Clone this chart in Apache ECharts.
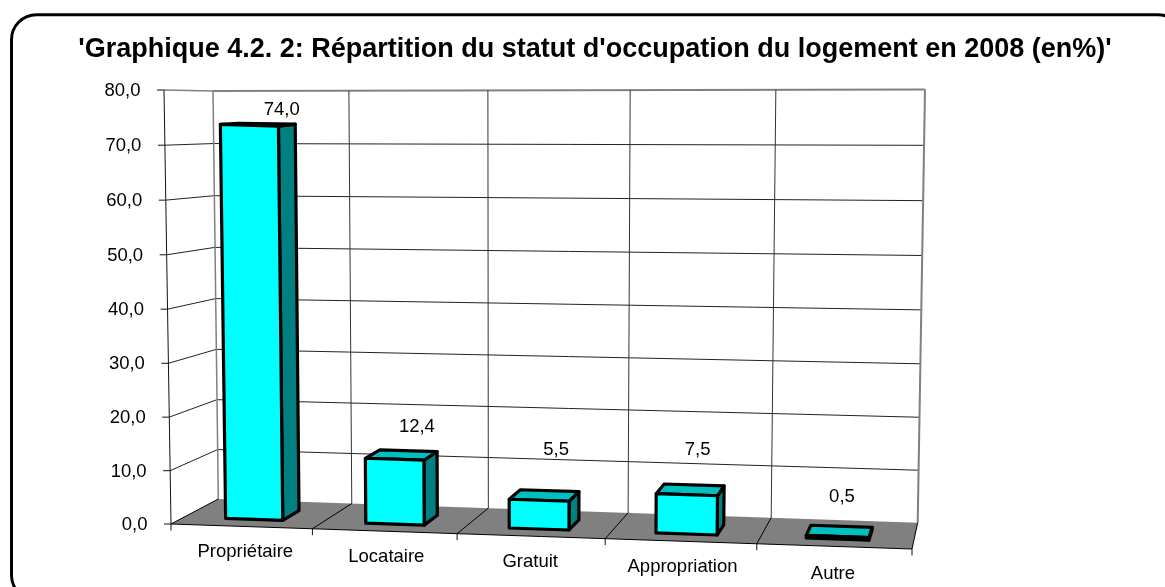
<!DOCTYPE html>
<html><head><meta charset="utf-8">
<style>html,body{margin:0;padding:0;background:#fff}#c{width:1165px;height:587px}</style>
<script src="https://cdn.jsdelivr.net/npm/echarts@6/dist/echarts.min.js"></script>
</head><body><div id="c"></div>
<script>
var titleText = "'Graphique 4.2. 2: Répartition du statut d'occupation du logement en 2008 (en%)'";
var categories = ['Propriétaire','Locataire','Gratuit','Appropriation','Autre'];
var values = [74.0,12.4,5.5,7.5,0.5];
var yTicks = [0,10,20,30,40,50,60,70,80];

var fr = function(v){return v.toFixed(1).replace('.',',');};
var FONT = '"Liberation Sans", Arial, sans-serif';
var G = {left:171, top:90, width:741, height:434};
// oblique view: corners of the plot box [floor/top][front/back][left/right]
var C = {
  f0L:[171,524], f0R:[912,549], b0L:[218.3,499], b0R:[917.7,522.7],
  f1L:[164,90],  f1R:[919,122], b1L:[213,91],    b1R:[925,89.5]
};
var labelShift = [[15,-13.5],[8.5,-24],[6.5,-41],[3.5,-35],[0.5,-29]];
var catShift = [[4,25.5],[2,25.5],[-0.5,25.5],[2,25.5],[-1,27.5]];
function lerp(a,b,t){return [a[0]+(b[0]-a[0])*t, a[1]+(b[1]-a[1])*t];}
// u,v come from the grid coordinates (0..1), w is depth (0 front, 1 back)
function P(u,v,w){
  var r=1.06, t=u/(u+(1-u)*r);
  var k=-0.02-0.015*w, vv=v+k*v*(1-v);
  var floor=lerp(lerp(C.f0L,C.f0R,t),lerp(C.b0L,C.b0R,t),w);
  var top=lerp(lerp(C.f1L,C.f1R,t),lerp(C.b1L,C.b1R,t),w);
  return lerp(floor,top,vv);
}
function norm(pt){return [(pt[0]-G.left)/G.width, 1-(pt[1]-G.top)/G.height];}
function poly(pts,fill,stroke,lw,z){
  return {type:'polygon',z2:z||0,shape:{points:pts},style:{fill:fill,stroke:stroke,lineWidth:lw,lineJoin:'round'}};
}
function line(a,b,col,lw,z){
  return {type:'line',z2:z||0,shape:{x1:a[0],y1:a[1],x2:b[0],y2:b[1]},style:{stroke:col,lineWidth:lw}};
}
function text(x,y,s,size,align,z){
  return {type:'text',z2:z||5,x:x,y:y,style:{text:s,fill:'#000',font:size+'px '+FONT,align:align,verticalAlign:'middle'}};
}
function renderFrame(params,api){
  var kids=[];
  var nCat=categories.length;
  var band=api.size([1,0])[0];
  var o=api.coord([0,0]);
  var leftPx=o[0]-band/2;
  // floor
  kids.push(poly([P(0,0,0),P(1,0,0),P(1,0,1),P(0,0,1)],'#808080','none',0,0));
  // value gridlines
  yTicks.forEach(function(t){
    var v=norm(api.coord([0,t]))[1];
    var col=t===80?'#808080':'#222';
    var lw=t===80?2:1;
    if(t>0){
      kids.push(line(P(0,v,0),P(0,v,1),t===80?'#808080':'#222',t===80?1.5:1,1));
      kids.push(line(P(0,v,1),P(1,v,1),col,lw,1));
    }
    var a=P(0,v,0);
    kids.push(line([a[0]-7,a[1]],a,'#111',1,2));
    kids.push(text(a[0]-23.5,a[1]+1,fr(t),18.5,'right'));
  });
  // category gridlines
  for(var i=0;i<=nCat;i++){
    var x=(leftPx+band*i-G.left)/G.width;
    var last=i===nCat;
    kids.push(line(P(x,0,1),P(x,1,1),(i===0||last)?'#808080':'#333',last?2:(i===0?1.5:1),1));
    var f=P(x,0,0);
    kids.push(line(f,P(x,0,1),'#000',1,2));
    kids.push(line(f,[f[0],f[1]+6.5],'#111',1,2));
  }
  // axes
  kids.push(line(P(0,0,0),P(1,0,0),'#000',1,2));
  kids.push(line(P(0,0,0),P(0,1,0),'#111',1,2));
  // category labels
  categories.forEach(function(c,i){
    var p=api.coord([i,0]);
    var f=P(norm(p)[0],0,0);
    kids.push(text(f[0]+catShift[i][0],f[1]+catShift[i][1],c,18.5,'center'));
  });
  return {type:'group',children:kids};
}
function renderBar(params,api){
  var i=api.value(0), val=api.value(1);
  var band=api.size([1,0])[0];
  var c=api.coord([i,val]);
  var u0=(c[0]-band*0.2-G.left)/G.width, u1=(c[0]+band*0.21-G.left)/G.width;
  var v=norm(c)[1], w0=0.28, w1=0.67;
  var A=P(u0,0,w0),B=P(u1,0,w0),Cc=P(u1,v,w0),D=P(u0,v,w0);
  var E=P(u1,0,w1),F=P(u1,v,w1),H=P(u0,v,w1);
  var kids=[
    poly([B,E,F,Cc],'#008080','#000',3.2,3),
    poly([D,Cc,F,H],'#00BFBF','#000',3.2,3),
    poly([A,B,Cc,D],'#00FFFF','#000',3.2,4)
  ];
  var tp=P((u0+u1)/2,v,w1), s=labelShift[i];
  kids.push(text(tp[0]+s[0],tp[1]+s[1],fr(val),18.5,'center',6));
  return {type:'group',children:kids};
}
var chart=echarts.init(document.getElementById('c'),null,{renderer:'canvas'});
chart.setOption({
  animation:false,
  backgroundColor:'#fff',
  graphic:[{type:'rect',z:0,shape:{x:11.5,y:14.7,width:1171.5,height:585.5,r:25},style:{fill:'#fff',stroke:'#000',lineWidth:3}}],
  title:{text:titleText,left:590,top:44.5,textAlign:'center',textVerticalAlign:'middle',textStyle:{fontFamily:FONT,fontWeight:'bold',fontSize:27,color:'#000'}},
  grid:{left:G.left,top:G.top,width:G.width,height:G.height},
  xAxis:{type:'category',data:categories,show:false},
  yAxis:{type:'value',min:0,max:80,interval:10,show:false},
  series:[
    {type:'custom',z:1,silent:true,clip:false,data:[[0,0]],renderItem:renderFrame},
    {type:'custom',z:2,silent:true,clip:false,data:values.map(function(v,i){return [i,v];}),renderItem:renderBar,encode:{x:0,y:1}}
  ]
});
</script></body></html>
